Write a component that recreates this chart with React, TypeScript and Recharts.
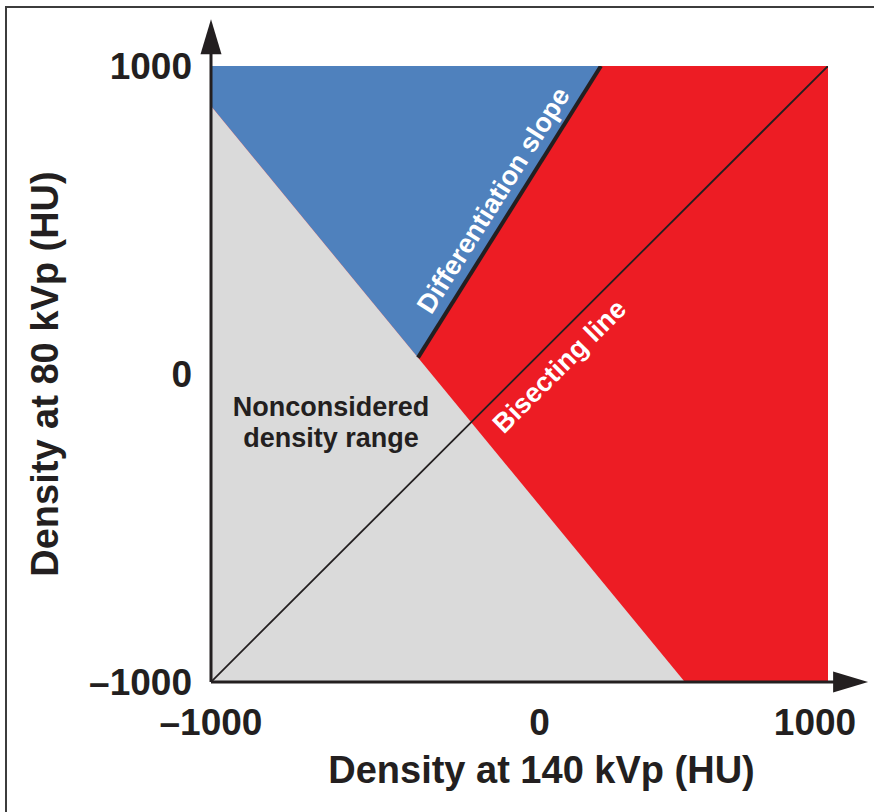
import React from 'react';
import { ComposedChart, Area, Line, XAxis, YAxis, ReferenceLine, ReferenceDot } from 'recharts';

// axis ticks (HU)
const xTicks = [-1000, 0, 1000];
const yTicks = [-1000, 0, 1000];

// regions, as [low, high] ranges of 80 kVp density along 140 kVp density
const redRegion = [
  { x: -1000, range: [-1000, 1000] },
  { x: 1000, range: [-1000, 1000] },
];
const blueRegion = [
  { x: -1000, range: [870, 1000] },
  { x: -329, range: [53, 1000] },
  { x: 264, range: [1000, 1000] },
];
const grayRegion = [
  { x: -1000, range: [-1000, 870] },
  { x: 536, range: [-1000, -1000] },
];

const slopeLine = [
  { x: -329, y: 53 },
  { x: 264, y: 1000 },
];
const bisectLine = [
  { x: -1000, y: -1000 },
  { x: 1000, y: 1000 },
];

// axis arrows run a bit past the data range
const xAxisArrow = [{ x: -1000, y: -1000 }, { x: 1130, y: -1000 }];
const yAxisArrow = [{ x: -1000, y: -1000 }, { x: -1000, y: 1152 }];

const FONT = '"Liberation Sans", Arial, Helvetica, sans-serif';
const INK = '#231F20';

const fmt = (v: number) => (v < 0 ? `\u2013${Math.abs(v)}` : `${v}`);

// the original figure sets its x tick labels slightly off the tick positions
const xTickNudge: Record<number, number> = { 0: 20, 1000: -13 };

const XTick = (props: any) => {
  const { x, y, payload } = props;
  const v = payload.value as number;
  return (
    <text
      x={x + (xTickNudge[v] || 0)}
      y={y}
      dy="0.71em"
      textAnchor="middle"
      fill={INK}
      style={{ fontSize: 37, fontWeight: 'bold', fontFamily: FONT }}
    >
      {fmt(v)}
    </text>
  );
};

const ArrowLine = (props: any) => {
  const { x1, y1, x2, y2 } = props;
  const len = Math.hypot(x2 - x1, y2 - y1);
  const ux = (x2 - x1) / len;
  const uy = (y2 - y1) / len;
  const head = 35;
  const half = 10.5;
  const bx = x2 - ux * head;
  const by = y2 - uy * head;
  return (
    <g>
      <line x1={x1} y1={y1} x2={bx + ux * 2} y2={by + uy * 2} stroke={INK} strokeWidth={3} />
      <polygon
        points={`${x2},${y2} ${bx - uy * half},${by + ux * half} ${bx + uy * half},${by - ux * half}`}
        fill={INK}
      />
    </g>
  );
};

const textLabel = (value: string, angle: number, fill: string) => ({
  value,
  angle,
  fill,
  position: 'center' as const,
  style: { fontSize: 27, fontWeight: 'bold', fontFamily: FONT },
});

export default function App() {
  return (
    <div style={{ position: 'absolute', left: 0, top: 0, width: 874, height: 812, background: '#fff', fontFamily: FONT }}>
      <div
        style={{
          position: 'absolute',
          left: 5,
          top: 6,
          width: 869,
          height: 806,
          borderTop: '2px solid #3c3c3c',
          borderLeft: '2px solid #3c3c3c',
          boxSizing: 'border-box',
        }}
      />
      <div style={{ position: 'absolute', left: 0, top: 0 }}>
        <ComposedChart width={874} height={812} margin={{ top: 66, right: 46, bottom: 0, left: 0 }}>
          <XAxis
            dataKey="x"
            type="number"
            domain={[-1000, 1000]}
            allowDataOverflow
            ticks={xTicks}
            interval={0}
            axisLine={false}
            tickLine={false}
            tickSize={0}
            tickMargin={27}
            height={130}
            tick={<XTick />}
            label={{
              value: 'Density at 140 kVp (HU)',
              position: 'insideBottom',
              offset: 29,
              dx: 22,
              style: { fontSize: 38, fontWeight: 'bold', fill: INK, fontFamily: FONT },
            }}
          />
          <YAxis
            type="number"
            domain={[-1000, 1000]}
            allowDataOverflow
            ticks={yTicks}
            interval={0}
            tickFormatter={fmt}
            axisLine={false}
            tickLine={false}
            tickSize={0}
            tickMargin={19}
            width={211}
            tick={{ fontSize: 37, fontWeight: 'bold', fill: INK, fontFamily: FONT }}
            label={{
              value: 'Density at 80 kVp (HU)',
              angle: -90,
              position: 'insideLeft',
              offset: 45,
              style: { fontSize: 38, fontWeight: 'bold', fill: INK, fontFamily: FONT, textAnchor: 'middle' },
            }}
          />
          <Area data={redRegion} dataKey="range" type="linear" fill="#ED1C24" fillOpacity={1} stroke="none" isAnimationActive={false} />
          <Area data={blueRegion} dataKey="range" type="linear" fill="#4F81BD" fillOpacity={1} stroke="none" isAnimationActive={false} />
          <Area data={grayRegion} dataKey="range" type="linear" fill="#DADADA" fillOpacity={1} stroke="none" isAnimationActive={false} />
          <Line data={bisectLine} dataKey="y" type="linear" stroke={INK} strokeWidth={1.8} dot={false} isAnimationActive={false} />
          <Line data={slopeLine} dataKey="y" type="linear" stroke={INK} strokeWidth={4} dot={false} isAnimationActive={false} />
          <ReferenceLine segment={xAxisArrow} ifOverflow="visible" shape={ArrowLine} />
          <ReferenceLine segment={yAxisArrow} ifOverflow="visible" shape={ArrowLine} />
          <ReferenceDot x={-611} y={-104} r={0} fill="none" stroke="none" ifOverflow="visible" label={textLabel('Nonconsidered', 0, INK)} />
          <ReferenceDot x={-611} y={-205} r={0} fill="none" stroke="none" ifOverflow="visible" label={textLabel('density range', 0, INK)} />
          <ReferenceDot x={-86} y={565} r={0} fill="none" stroke="none" ifOverflow="visible" label={textLabel('Differentiation slope', -57.7, '#fff')} />
          <ReferenceDot x={128} y={26} r={0} fill="none" stroke="none" ifOverflow="visible" label={textLabel('Bisecting line', -45, '#fff')} />
        </ComposedChart>
      </div>
    </div>
  );
}
